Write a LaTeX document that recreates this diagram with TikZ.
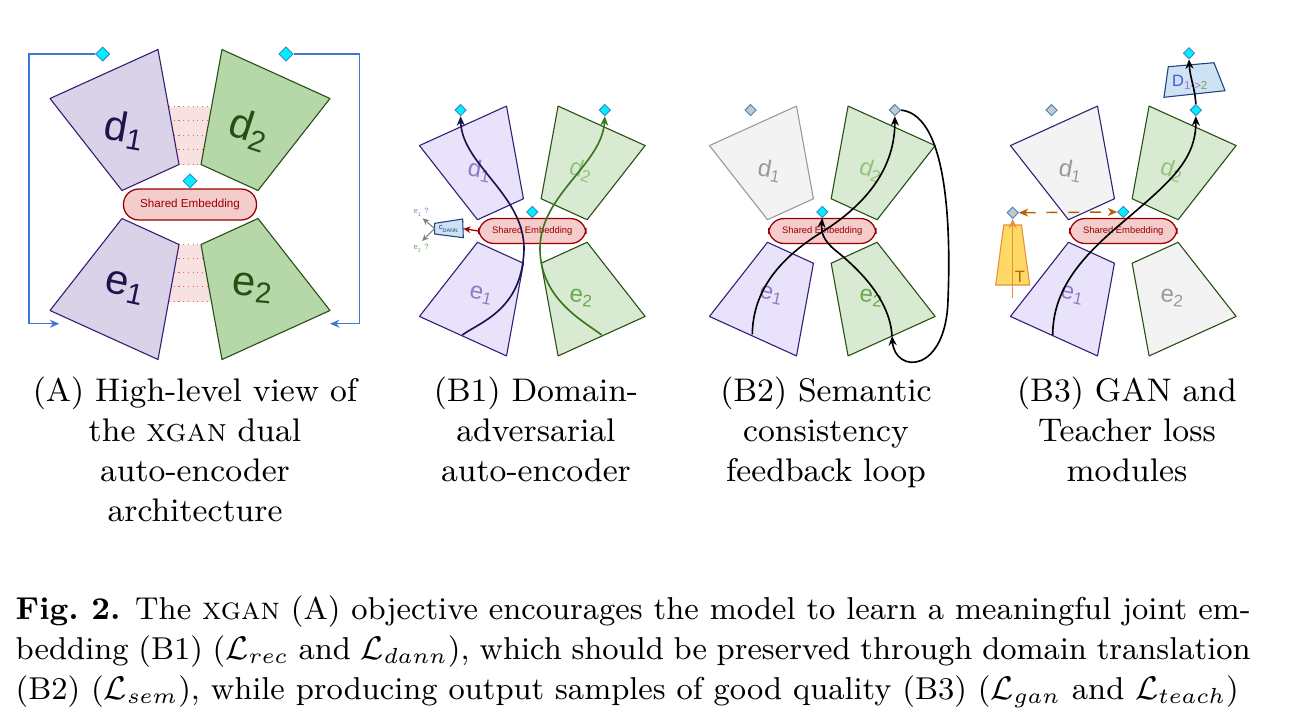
\documentclass[tikz,border=0pt]{standalone}
\usepackage{amsmath}
\usepackage{amssymb}
\usepackage{fontspec}
\usepackage{xcolor}
\usepackage{tikz}
\usetikzlibrary{positioning, arrows.meta, shapes.geometric, calc}
\newfontfamily\drawfont{Liberation Sans}

\definecolor{encpurple}{HTML}{D9D2E9}
\definecolor{encpurplelt}{HTML}{E8E2FA}
\definecolor{navyline}{HTML}{351C75}
\definecolor{navytext}{HTML}{20124D}
\definecolor{decgreen}{HTML}{B6D7A8}
\definecolor{decgreenlt}{HTML}{D9EAD3}
\definecolor{greenline}{HTML}{274E13}
\definecolor{offgray}{HTML}{F3F3F3}
\definecolor{offline}{HTML}{999999}
\definecolor{embfill}{HTML}{F4CCCC}
\definecolor{embline}{HTML}{990000}
\definecolor{portcyan}{HTML}{00F0FF}
\definecolor{portline}{HTML}{3D85C6}
\definecolor{portgray}{HTML}{C8C8C8}
\definecolor{fbblue}{HTML}{3C78D8}
\definecolor{bandpink}{HTML}{F8E1E1}
\definecolor{banddot}{HTML}{E06666}
\definecolor{lblpurple}{HTML}{8E7CC3}
\definecolor{lblgreen}{HTML}{93C47D}
\definecolor{lblgreendk}{HTML}{6AA84F}
\definecolor{clsfill}{HTML}{CFE2F3}
\definecolor{clsline}{HTML}{1C4587}
\definecolor{teachfill}{HTML}{FFD966}
\definecolor{teachline}{HTML}{E69138}
\definecolor{teachtext}{HTML}{B45F06}
\definecolor{curvegreen}{HTML}{38761D}
\definecolor{ganblue}{HTML}{3D5CD6}

\begin{document}
\begin{tikzpicture}[
    x=0.275pt, y=-0.275pt,
    >={Stealth[length=2.6pt, width=2.2pt]},
    mini/.style={scale=0.806, every node/.append style={scale=0.806}},
    encA/.style={fill=encpurple, draw=navyline, line width=0.3pt, line join=round},
    decA/.style={fill=decgreen, draw=greenline, line width=0.3pt, line join=round},
    encB/.style={fill=encpurplelt, draw=navyline, line width=0.3pt, line join=round},
    decB/.style={fill=decgreenlt, draw=greenline, line width=0.3pt, line join=round},
    idle/.style={fill=offgray, line width=0.3pt, line join=round},
    band/.style={fill=bandpink},
    bandline/.style={draw=banddot, densely dotted, line width=0.3pt},
    shared/.style={draw=embline, fill=embfill, line width=0.35pt, rounded corners=4.2pt, minimum width=36.6pt, minimum height=8.5pt, inner sep=0pt, text=embline, font=\drawfont\fontsize{3.2}{3.8}\selectfont},
    tag/.style={inner sep=0pt, font=\drawfont\fontsize{11.5}{11.5}\selectfont},
    tagB/.style={inner sep=0pt, font=\drawfont\fontsize{8.2}{8.2}\selectfont},
    tiny/.style={inner sep=0pt, font=\drawfont\fontsize{2.6}{3}\selectfont},
    portc/.style={diamond, draw=portline, fill=portcyan, line width=0.25pt, inner sep=0pt, minimum size=3.9pt},
    portg/.style={portc, fill=portgray},
    feedback/.style={->, draw=fbblue, line width=0.4pt},
    flow/.style={->, line width=0.45pt},
    subcap/.style={anchor=north, align=center, text width=100pt, inner sep=0pt, font=\fontsize{9}{11}\selectfont}
]
\useasboundingbox (0,0) rectangle (1290,723);

% (A) dual auto-encoder
\begin{scope}[shift={(190,204.5)}]
  \fill[band] (-21,-98) rectangle (20,-40);
  \fill[band] (-21,40) rectangle (20,97);
  \foreach \yy in {-98,-84,-69,-55,-40,40,54,68,82,97}
    \draw[bandline] (-21,\yy) -- (20,\yy);
  \draw[encA] (-140,-106) -- (-32,-155) -- (-11,-40) -- (-68,-14) -- cycle;
  \draw[decA] (140,-106) -- (32,-155) -- (11,-40) -- (68,-14) -- cycle;
  \draw[encA] (-140,106) -- (-68,14) -- (-11,40) -- (-32,155) -- cycle;
  \draw[decA] (140,106) -- (68,14) -- (11,40) -- (32,155) -- cycle;
  \node[tag, text=navytext, rotate=-10] (ad1) at (-65,-74.5) {d\textsubscript{1}};
  \node[tag, text=greenline, rotate=-18] (ad2) at (60,-74.5) {d\textsubscript{2}};
  \node[tag, text=navytext, rotate=-12] (ae1) at (-65,83.5) {e\textsubscript{1}};
  \node[tag, text=greenline, rotate=-5] (ae2) at (63,83.5) {e\textsubscript{2}};
  \node[shared] (aemb) at (0,0) {Shared Embedding};
  \node[portc, above=0pt of aemb.north] (aport) {};
  \node[portc] (ad1out) at (-87.3,-150.5) {};
  \node[portc] (ad2out) at (96,-150.5) {};
\end{scope}

% (A) reconstruction loops
\coordinate (aret1) at (59.3,323.7);
\coordinate (aret2) at (330,323.7);
\draw[feedback] (ad1out.west) -- ++(-66,0) |- (aret1);
\draw[feedback] (ad2out.east) -- ++(66,0) |- (aret2);

% (B1) domain-adversarial auto-encoder
\begin{scope}[shift={(532.3,231)}, mini]
  \draw[encB] (-140,-106) -- (-32,-155) -- (-11,-40) -- (-68,-14) -- cycle;
  \draw[decB] (140,-106) -- (32,-155) -- (11,-40) -- (68,-14) -- cycle;
  \draw[encB] (-140,106) -- (-68,14) -- (-11,40) -- (-32,155) -- cycle;
  \draw[decB] (140,106) -- (68,14) -- (11,40) -- (32,155) -- cycle;
  \node[tagB, text=lblpurple, rotate=-10] (b1d1) at (-65,-75) {d\textsubscript{1}};
  \node[tagB, text=lblgreen, rotate=-18] (b1d2) at (61,-75) {d\textsubscript{2}};
  \node[tagB, text=lblpurple, rotate=-12] (b1e1) at (-63,80) {e\textsubscript{1}};
  \node[tagB, text=lblgreendk, rotate=-5] (b1e2) at (61,83) {e\textsubscript{2}};
  \node[shared] (b1emb) at (0,0) {Shared Embedding};
  \node[portc, above=0pt of b1emb.north] (b1port) {};
  \node[portc] (b1d1out) at (-89,-150) {};
  \node[portc] (b1d2out) at (90,-150) {};
  % domain classifier
  \draw[fill=clsfill, draw=clsline, line width=0.3pt] (-121.2,-9.5) -- (-86.4,-14.9) -- (-85.6,8.3) -- (-121.2,3.7) -- cycle;
  \node[tiny, text=clsline] (cdann) at (-103.3,-3.1) {c\textsubscript{DANN}};
  \coordinate (cdannin) at (-85.6,-3);
  \coordinate (cdannout) at (-121.2,-3);
  \coordinate (guess1) at (-136,-15.8);
  \coordinate (guess2) at (-136.8,12.4);
  \node[tiny, text=lblpurple] (q1) at (-138,-23) {e\textsubscript{1} ?};
  \node[tiny, text=lblgreendk] (q2) at (-138,21.7) {e\textsubscript{2} ?};
  \draw[->, draw=embline, densely dashed, line width=0.35pt, >={Stealth[length=2pt, width=1.8pt]}] (b1emb.west) -- (cdannin);
  \draw[->, draw=gray, line width=0.3pt, >={Stealth[length=1.8pt, width=1.6pt]}] (cdannout) -- (guess1);
  \draw[->, draw=gray, line width=0.3pt, >={Stealth[length=1.8pt, width=1.6pt]}] (cdannout) -- (guess2);
\end{scope}

% (B2) semantic consistency
\begin{scope}[shift={(822.3,231)}, mini]
  \draw[idle, draw=offline] (-140,-106) -- (-32,-155) -- (-11,-40) -- (-68,-14) -- cycle;
  \draw[decB] (140,-106) -- (32,-155) -- (11,-40) -- (68,-14) -- cycle;
  \draw[encB] (-140,106) -- (-68,14) -- (-11,40) -- (-32,155) -- cycle;
  \draw[decB] (140,106) -- (68,14) -- (11,40) -- (32,155) -- cycle;
  \node[tagB, text=offline, rotate=-10] (b2d1) at (-65,-75) {d\textsubscript{1}};
  \node[tagB, text=lblgreen, rotate=-18] (b2d2) at (61,-75) {d\textsubscript{2}};
  \node[tagB, text=lblpurple, rotate=-12] (b2e1) at (-63,80) {e\textsubscript{1}};
  \node[tagB, text=lblgreendk, rotate=-5] (b2e2) at (61,83) {e\textsubscript{2}};
  \node[shared] (b2emb) at (0,0) {Shared Embedding};
  \node[portc, above=0pt of b2emb.north] (b2port) {};
  \node[portg] (b2d1out) at (-89,-150) {};
  \node[portg] (b2d2out) at (90,-150) {};
\end{scope}

% (B3) GAN and teacher
\begin{scope}[shift={(1123.3,231)}, mini]
  \draw[idle, draw=navyline] (-140,-106) -- (-32,-155) -- (-11,-40) -- (-68,-14) -- cycle;
  \draw[decB] (140,-106) -- (32,-155) -- (11,-40) -- (68,-14) -- cycle;
  \draw[encB] (-140,106) -- (-68,14) -- (-11,40) -- (-32,155) -- cycle;
  \draw[idle, draw=greenline] (140,106) -- (68,14) -- (11,40) -- (32,155) -- cycle;
  \node[tagB, text=offline, rotate=-10] (b3d1) at (-65,-75) {d\textsubscript{1}};
  \node[tagB, text=lblgreen, rotate=-18] (b3d2) at (61,-75) {d\textsubscript{2}};
  \node[tagB, text=lblpurple, rotate=-12] (b3e1) at (-63,80) {e\textsubscript{1}};
  \node[tagB, text=offline, rotate=-5] (b3e2) at (61,83) {e\textsubscript{2}};
  \node[shared] (b3emb) at (0,0) {Shared Embedding};
  \node[portc, above=0pt of b3emb.north] (b3port) {};
  \node[portg] (b3d1out) at (-89,-150) {};
  \node[portc] (b3d2out) at (90,-150) {};
  % discriminator
  \draw[fill=clsfill, draw=clsline, line width=0.3pt] (55.8,-203.8) -- (112.5,-208.8) -- (126.2,-174.1) -- (50.5,-165.9) -- cycle;
  \node[inner sep=0pt, font=\drawfont\fontsize{5.6}{6}\selectfont, text=ganblue] (gan) at (83.4,-184.9) {D\textsubscript{\textcolor{lblpurple}{1->}\textcolor{lblgreendk}{2}}};
  \node[portc] (b3ganout) at (81.5,-220.5) {};
  % teacher
  \draw[fill=teachfill, draw=teachline, line width=0.3pt] (-148.3,-7.4) -- (-126.4,-7.4) -- (-116.1,67) -- (-158.3,67) -- cycle;
  \node[inner sep=0pt, font=\drawfont\fontsize{5.6}{6}\selectfont, text=teachtext] (teach) at (-128.4,56.7) {T};
  \node[portg] (b3teachout) at (-137.2,-22.7) {};
  \coordinate (teachin) at (-137.2,83.5);
  \draw[->, draw=teachline, line width=0.4pt] (teachin) -- (b3teachout.south);
  \draw[<->, draw=teachtext, dashed, line width=0.4pt] (b3teachout.east) -- (b3port.west);
\end{scope}

% B connectors
\coordinate (b1foot1) at (462.3,335);
\coordinate (b1foot2) at (601.7,335);
\draw[flow, draw=navytext] (b1foot1) .. controls (480,322) and (522,310) .. (524,250) .. controls (525,195) and (462,165) .. (b1d1out.south);
\draw[flow, draw=curvegreen] (b1foot2) .. controls (585,322) and (541,300) .. (540,250) .. controls (539,195) and (602,165) .. (b1d2out.south);

\coordinate (b2foot1) at (752.3,334.3);
\coordinate (b2foot2) at (892,336);
\draw[flow] (b2foot1) .. controls (753,290) and (780,258) .. (822,232) .. controls (870,202) and (895,165) .. (b2d2out.south);
\draw[flow] (b2d2out.east) .. controls (952,115) and (950,250) .. (948,300) .. controls (946,374) and (895,374) .. (b2foot2);
\draw[flow] (b2foot2) .. controls (890,300) and (860,270) .. (835,250) .. controls (823,240) and (821,232) .. (b2port.south);

\coordinate (b3foot) at (1052.7,335);
\draw[flow] (b3foot) .. controls (1053,290) and (1080,258) .. (1123,222) .. controls (1170,182) and (1196,160) .. (b3d2out.south);
\draw[flow] (b3d2out.north) .. controls (1195,88) and (1190,78) .. (b3ganout.south);

% sub-captions
\node[subcap] (capA) at (195,376) {(A) High-level view of\\the \textsc{xgan} dual\\auto-encoder\\architecture};
\node[subcap] (capB1) at (536,376) {(B1) Domain-\\adversarial\\auto-encoder};
\node[subcap] (capB2) at (826,376) {(B2) Semantic\\consistency\\feedback loop};
\node[subcap] (capB3) at (1127,376) {(B3) GAN and\\Teacher loss\\modules};

% caption
\node[anchor=north west, text width=339.6pt, inner sep=0pt, align=justify, font=\fontsize{8.7}{11}\selectfont] (caption) at (15,595) {\parfillskip=0pt
{\bfseries Fig.~2.} The \textsc{xgan} (A) objective encourages the model to learn a meaningful joint em-\linebreak
bedding (B1) ($\mathcal{L}_{rec}$ and $\mathcal{L}_{dann}$), which should be preserved through domain translation\linebreak
(B2) ($\mathcal{L}_{sem}$), while producing output samples of good quality (B3) ($\mathcal{L}_{gan}$ and $\mathcal{L}_{teach}$)};
\end{tikzpicture}
\end{document}
